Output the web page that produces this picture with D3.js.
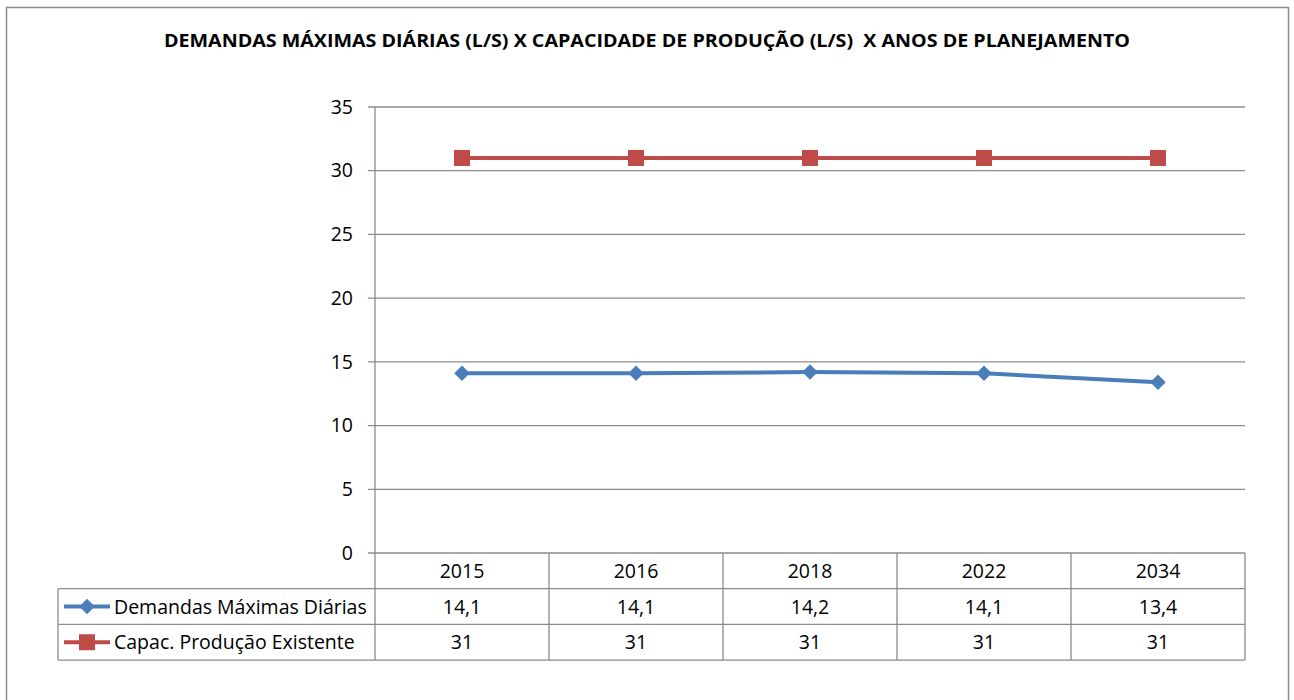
<!DOCTYPE html>
<html>
<head>
<meta charset="utf-8">
<script src="https://cdn.jsdelivr.net/npm/d3@7"></script>
<style>
  body { margin: 0; background: #fff; }
  svg { display: block; font-family: "Open Sans", "Liberation Sans", sans-serif; }
</style>
</head>
<body>
<div id="chart"></div>
<script>
var years = ['2015', '2016', '2018', '2022', '2034'];
var demandas = [14.1, 14.1, 14.2, 14.1, 13.4];
var capacidade = [31, 31, 31, 31, 31];
var seriesNames = ['Demandas Máximas Diárias', 'Capac. Produção Existente'];
var yTicks = [0, 5, 10, 15, 20, 25, 30, 35];

var width = 1294, height = 700;
var plot = {left: 375, right: 1245, top: 107, bottom: 553};
var rowH = 35.7;
var tableLeft = 58;
var fs = 19.5;

var svg = d3.select('#chart').append('svg')
	.attr('width', width)
	.attr('height', height);

// moldura externa
svg.append('rect')
	.attr('x', 6.5).attr('y', 7.5)
	.attr('width', 1282).attr('height', 700)
	.attr('fill', 'none')
	.attr('stroke', '#8c8c8c')
	.attr('stroke-width', 1.5);

svg.append('text')
	.attr('x', 647).attr('y', 47)
	.attr('text-anchor', 'middle')
	.attr('font-weight', 'bold')
	.attr('font-size', 18)
	.attr('textLength', 966)
	.attr('lengthAdjust', 'spacingAndGlyphs')
	.style('white-space', 'pre')
	.text('DEMANDAS MÁXIMAS DIÁRIAS (L/S) X CAPACIDADE DE PRODUÇÃO (L/S)  X ANOS DE PLANEJAMENTO');

var x = d3.scaleBand()
	.domain(years)
	.range([plot.left, plot.right]);

var y = d3.scaleLinear()
	.domain([0, 35])
	.range([plot.bottom, plot.top]);

// grade horizontal
svg.append('g')
	.selectAll('line')
	.data(yTicks)
	.enter()
	.append('line')
	.attr('x1', plot.left - 7)
	.attr('x2', plot.right)
	.attr('y1', d => y(d))
	.attr('y2', d => y(d))
	.attr('stroke', '#8c8c8c')
	.attr('stroke-width', 1.3);

// eixo y
var yAxis = d3.axisLeft(y)
	.tickValues(yTicks)
	.tickSize(0)
	.tickPadding(22);

var gy = svg.append('g')
	.attr('transform', `translate(${plot.left}, 0)`)
	.call(yAxis);
gy.select('.domain').remove();
gy.selectAll('text')
	.attr('font-family', '"Open Sans", sans-serif')
	.attr('font-size', fs)
	.attr('fill', '#000');

svg.append('line')
	.attr('x1', plot.left).attr('x2', plot.left)
	.attr('y1', plot.top).attr('y2', plot.bottom + rowH * 3)
	.attr('stroke', '#8c8c8c')
	.attr('stroke-width', 1.3);

// tabela de dados
var tableBottom = plot.bottom + rowH * 3;
var tg = svg.append('g').attr('stroke', '#8c8c8c').attr('stroke-width', 1.3);

years.forEach(function (yr) {
	tg.append('line')
		.attr('x1', x(yr) + x.bandwidth()).attr('x2', x(yr) + x.bandwidth())
		.attr('y1', plot.bottom).attr('y2', tableBottom);
});
[1, 2, 3].forEach(function (r) {
	tg.append('line')
		.attr('x1', tableLeft).attr('x2', plot.right)
		.attr('y1', plot.bottom + rowH * r).attr('y2', plot.bottom + rowH * r);
});
tg.append('line')
	.attr('x1', tableLeft).attr('x2', tableLeft)
	.attr('y1', plot.bottom + rowH).attr('y2', tableBottom);

var fmt = v => String(v).replace('.', ',');
var rows = [years, demandas.map(fmt), capacidade.map(fmt)];
rows.forEach(function (row, r) {
	svg.append('g')
		.selectAll('text')
		.data(row)
		.enter()
		.append('text')
		.attr('x', (d, i) => x(years[i]) + x.bandwidth() / 2)
		.attr('y', plot.bottom + rowH * r + rowH / 2 + 7)
		.attr('text-anchor', 'middle')
		.attr('font-size', fs)
		.text(d => d);
});

var colors = ['#4a7ebb', '#be4b48'];
var seriesData = [demandas, capacidade];

function drawMarker(g, k, cx, cy) {
	if (k === 0) {
		g.append('path')
			.attr('d', d3.symbol().type(d3.symbolSquare).size(120)())
			.attr('transform', `translate(${cx}, ${cy}) rotate(45)`)
			.attr('fill', colors[k]);
	} else {
		g.append('rect')
			.attr('x', cx - 8).attr('y', cy - 8)
			.attr('width', 16).attr('height', 16)
			.attr('fill', colors[k]);
	}
}

// legenda dentro da tabela
seriesNames.forEach(function (name, k) {
	var cy = plot.bottom + rowH * (k + 1) + rowH / 2;
	var lg = svg.append('g');
	lg.append('line')
		.attr('x1', 64).attr('x2', 110)
		.attr('y1', cy).attr('y2', cy)
		.attr('stroke', colors[k])
		.attr('stroke-width', 4);
	drawMarker(lg, k, 87, cy);
	lg.append('text')
		.attr('x', 114)
		.attr('y', cy + 7)
		.attr('font-size', fs)
		.text(name);
});

// linhas
var line = d3.line()
	.x((d, i) => x(years[i]) + x.bandwidth() / 2)
	.y(d => y(d));

seriesData.forEach(function (values, k) {
	var g = svg.append('g');
	g.append('path')
		.datum(values)
		.attr('d', line)
		.attr('fill', 'none')
		.attr('stroke', colors[k])
		.attr('stroke-width', 4)
		.attr('stroke-linejoin', 'round');
	values.forEach(function (v, i) {
		drawMarker(g, k, x(years[i]) + x.bandwidth() / 2, y(v));
	});
});
</script>
</body>
</html>
